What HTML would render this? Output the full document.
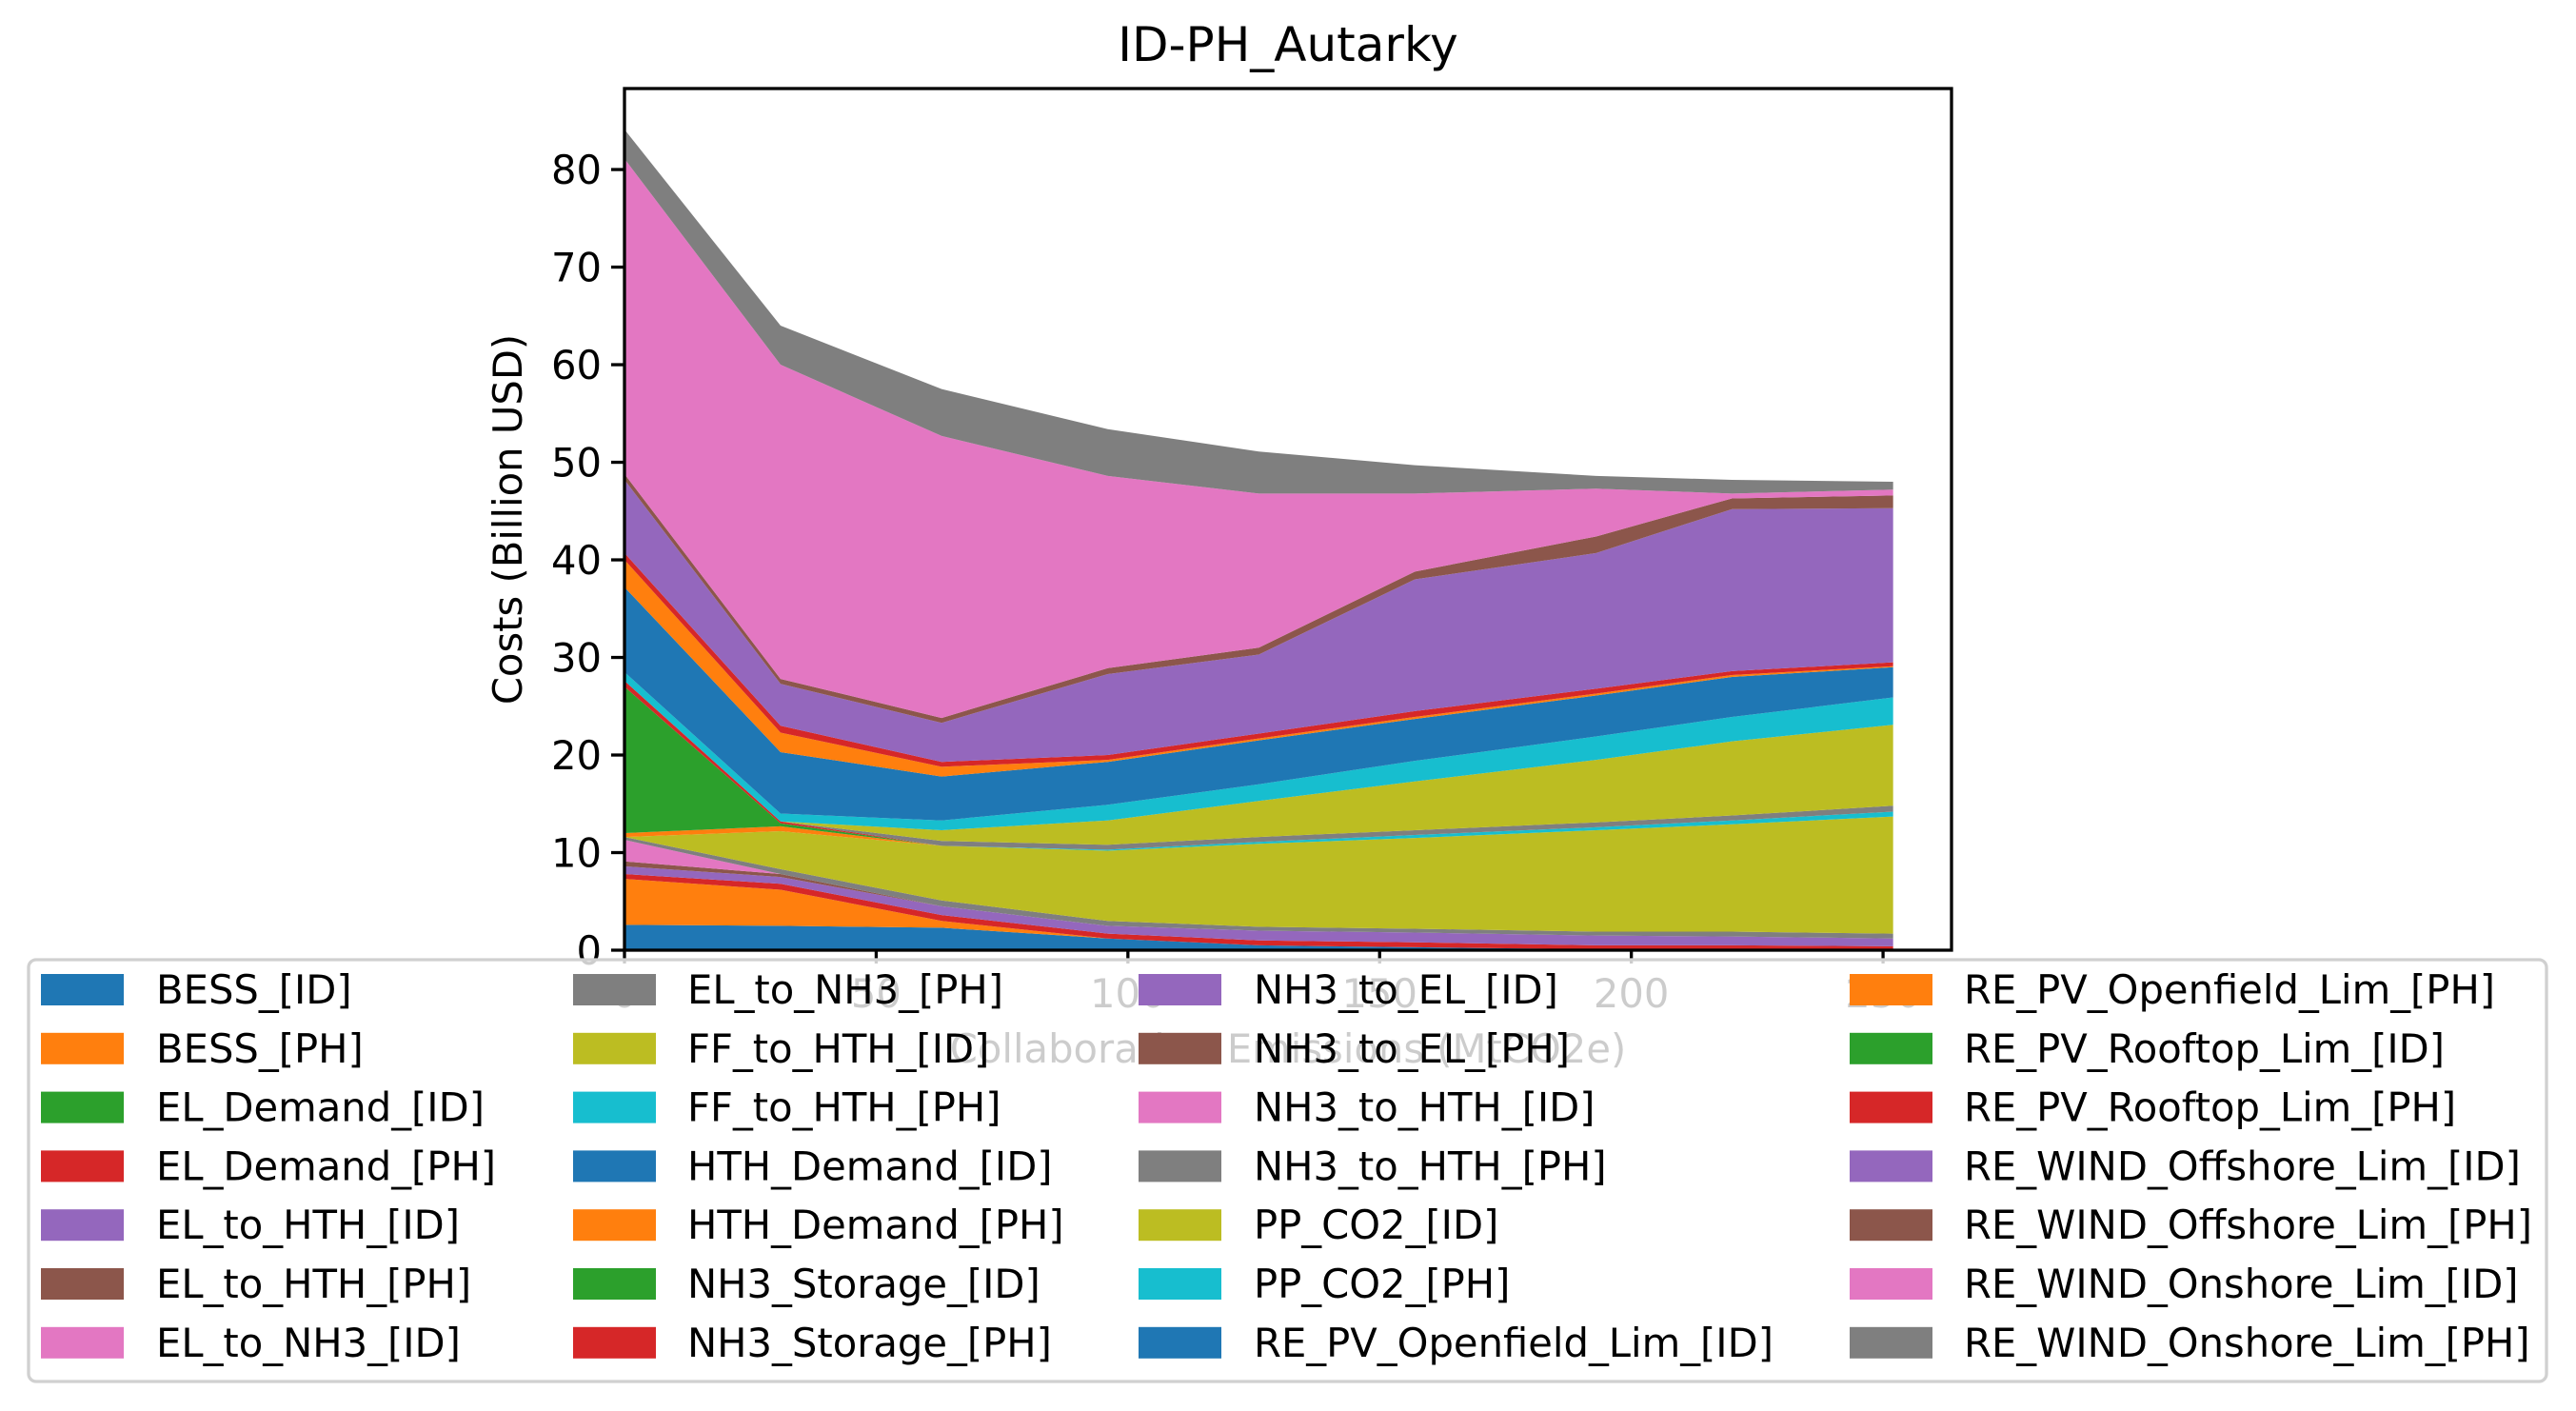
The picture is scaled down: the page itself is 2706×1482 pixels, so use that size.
<!DOCTYPE html>
<html><head><meta charset="utf-8"><style>
html,body{margin:0;padding:0;background:#fff;}
svg{display:block;font-family:"DejaVu Sans","Liberation Sans",sans-serif;}
</style></head><body>
<svg id="chart" width="2706" height="1482" viewBox="0 0 2706 1482" xmlns="http://www.w3.org/2000/svg">
<rect x="0" y="0" width="2706" height="1482" fill="#fff"/>
<text x="1353" y="64" text-anchor="middle" font-size="50" fill="#000">ID-PH_Autarky</text>
<g id="areas"></g>
<g id="axes"></g>
<g id="legend"></g>
</svg>
<script>
const xValues = [0, 31, 63, 96, 126, 157, 193, 220, 252];
const seriesNames = ["BESS_[ID]","BESS_[PH]","EL_Demand_[ID]","EL_Demand_[PH]","EL_to_HTH_[ID]","EL_to_HTH_[PH]","EL_to_NH3_[ID]","EL_to_NH3_[PH]","FF_to_HTH_[ID]","FF_to_HTH_[PH]","HTH_Demand_[ID]","HTH_Demand_[PH]","NH3_Storage_[ID]","NH3_Storage_[PH]","NH3_to_EL_[ID]","NH3_to_EL_[PH]","NH3_to_HTH_[ID]","NH3_to_HTH_[PH]","PP_CO2_[ID]","PP_CO2_[PH]","RE_PV_Openfield_Lim_[ID]","RE_PV_Openfield_Lim_[PH]","RE_PV_Rooftop_Lim_[ID]","RE_PV_Rooftop_Lim_[PH]","RE_WIND_Offshore_Lim_[ID]","RE_WIND_Offshore_Lim_[PH]","RE_WIND_Onshore_Lim_[ID]","RE_WIND_Onshore_Lim_[PH]"];
const bessID = [2.6,2.5,2.3,1.2,0.5,0.3,0.1,0.1,0.1];
const bessPH = [4.7,3.7,0.7,0,0,0,0,0,0];
const elDemandID = [0,0,0,0,0,0,0,0,0];
const elDemandPH = [0.5,0.6,0.6,0.5,0.5,0.5,0.4,0.4,0.3];
const elToHthID = [0.8,0.7,0.9,0.8,1.0,1.0,1.0,0.9,0.8];
const elToHthPH = [0.5,0.3,0,0,0,0,0,0,0];
const elToNh3ID = [2.2,0,0,0,0,0,0,0,0];
const elToNh3PH = [0.3,0.5,0.6,0.5,0.4,0.4,0.4,0.5,0.5];
const ffToHthID = [0,3.9,5.6,7.2,8.5,9.3,10.4,11.0,12.0];
const ffToHthPH = [0,0,0,0.1,0.2,0.3,0.3,0.4,0.5];
const hthDemandID = [0,0,0,0,0,0,0,0,0];
const hthDemandPH = [0.4,0.5,0,0,0,0,0,0,0];
const nh3StorageID = [15.0,0.3,0,0,0,0,0,0,0];
const nh3StoragePH = [0.6,0.2,0,0,0,0,0,0,0];
const nh3ToElID = [0,0,0,0,0,0,0,0,0];
const nh3ToElPH = [0,0,0,0,0,0,0,0,0];
const nh3ToHthID = [0,0,0,0,0,0,0,0,0];
const nh3ToHthPH = [0,0,0.5,0.5,0.5,0.5,0.5,0.5,0.6];
const ppCo2ID = [0,0,1.1,2.5,3.7,5.0,6.4,7.6,8.3];
const ppCo2PH = [0.9,0.8,1.0,1.6,1.7,2.1,2.4,2.5,2.8];
const pvOpenID = [8.7,6.3,4.5,4.4,4.5,4.3,4.2,4.1,3.1];
const pvOpenPH = [2.8,2.0,1.0,0.2,0.2,0.2,0.2,0.2,0.1];
const pvRoofID = [0,0,0,0,0,0,0,0,0];
const pvRoofPH = [0.7,0.7,0.5,0.5,0.5,0.6,0.5,0.4,0.4];
const windOffID = [7.5,4.3,4.0,8.3,8.1,13.5,13.9,16.6,15.8];
const windOffPH = [0.6,0.5,0.5,0.6,0.7,0.8,1.7,1.1,1.3];
const windOnID = [32.3,32.2,28.9,19.7,15.8,8.0,4.9,0.5,0.6];
const windOnPH = [3.0,4.0,4.8,4.8,4.3,2.9,1.3,1.4,0.8];
const yTicks = [0,10,20,30,40,50,60,70,80];
const xTicks = [0,50,100,150,200,250];

const seriesValues = [bessID,bessPH,elDemandID,elDemandPH,elToHthID,elToHthPH,elToNh3ID,elToNh3PH,ffToHthID,ffToHthPH,hthDemandID,hthDemandPH,nh3StorageID,nh3StoragePH,nh3ToElID,nh3ToElPH,nh3ToHthID,nh3ToHthPH,ppCo2ID,ppCo2PH,pvOpenID,pvOpenPH,pvRoofID,pvRoofPH,windOffID,windOffPH,windOnID,windOnPH];
const palette = ["#1f77b4","#ff7f0e","#2ca02c","#d62728","#9467bd","#8c564b","#e377c2","#7f7f7f","#bcbd22","#17becf"];

const NS = "http://www.w3.org/2000/svg";
const L = 656, R = 2050, T = 93, B = 998;
const xMin = 0, xMax = 263.6, yMin = 0, yMax = 88.3;
function xs(v){ return L + (v - xMin) / (xMax - xMin) * (R - L); }
function ys(v){ return B - (v - yMin) / (yMax - yMin) * (B - T); }
function mk(tag, attrs, parent){ const e = document.createElementNS(NS, tag); for (const k in attrs) e.setAttribute(k, attrs[k]); parent.appendChild(e); return e; }

const areas = document.getElementById('areas');
let base = xValues.map(() => 0);
seriesValues.forEach((vals, i) => {
  const top = base.map((b, j) => b + vals[j]);
  let d = "M" + xValues.map((x, j) => xs(x).toFixed(2) + "," + ys(top[j]).toFixed(2)).join(" L");
  for (let j = xValues.length - 1; j >= 0; j--) d += " L" + xs(xValues[j]).toFixed(2) + "," + ys(base[j]).toFixed(2);
  d += " Z";
  const p = mk('path', {d: d, fill: palette[i % 10]}, areas);
  
  
  base = top;
});

const axes = document.getElementById('axes');
const frame = mk('rect', {x: L, y: T, width: R - L, height: B - T, fill: 'none', stroke: '#000', 'stroke-width': 3.3}, axes);


yTicks.forEach(v => {
  const y = ys(v);
  const tk = mk('line', {x1: L - 14, x2: L, y1: y, y2: y, stroke: '#000', 'stroke-width': 3.3}, axes);
  
  
  const t = mk('text', {x: L - 24, y: y + 15, 'text-anchor': 'end', 'font-size': 41.7, fill: '#000'}, axes);
  t.textContent = v;
  
  
});
xTicks.forEach(v => {
  const x = xs(v);
  const tk = mk('line', {x1: x, x2: x, y1: B, y2: B + 14, stroke: '#000', 'stroke-width': 3.3}, axes);
  
  
  const t = mk('text', {x: x, y: B + 60, 'text-anchor': 'middle', 'font-size': 41.7, fill: '#000'}, axes);
  t.textContent = v;
  
  
});
const xl = mk('text', {x: (L + R) / 2, y: B + 118, 'text-anchor': 'middle', 'font-size': 41.7, fill: '#000'}, axes);
xl.textContent = 'Collaboration Emissions (MtCO2e)';


const yl = mk('text', {x: 0, y: 0, 'text-anchor': 'middle', 'font-size': 41.7, fill: '#000', transform: 'translate(548,' + ((T + B) / 2) + ') rotate(-90)'}, axes);
yl.textContent = 'Costs (Billion USD)';



const legend = document.getElementById('legend');
const lb = mk('rect', {x: 30, y: 1008, width: 2645, height: 443, rx: 8, fill: 'rgba(255,255,255,0.8)', stroke: '#d0d0d0', 'stroke-width': 3.3}, legend);


const colSw = [43, 602, 1196, 1943];
const colTx = [164, 722, 1317, 2063];
seriesNames.forEach((n, i) => {
  const c = Math.floor(i / 7), r = i % 7;
  const yTop = 1023 + r * 61.8;
  const g = mk('g', {}, legend);
  
  
  const s = mk('rect', {x: colSw[c], y: yTop, width: 87, height: 33, fill: palette[i % 10]}, g);
  
  
  const t = mk('text', {x: colTx[c], y: yTop + 31, 'font-size': 41.7, fill: '#000'}, g);
  t.textContent = n;
  
  
});
</script>
</body></html>
